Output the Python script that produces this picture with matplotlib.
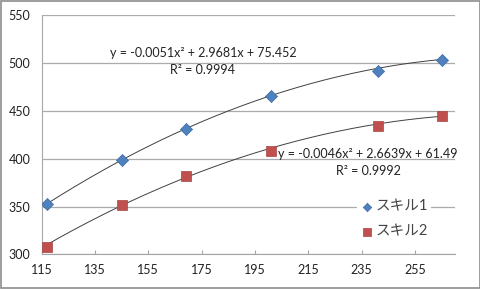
import numpy as np
import matplotlib
matplotlib.use("Agg")
import matplotlib.pyplot as plt
from matplotlib.patches import Rectangle

plt.rcParams['font.family'] = ['Lato', 'Noto Sans CJK JP', 'DejaVu Sans']

x = [117, 145, 169, 201, 241, 265]
skill1 = [352.5, 399, 431, 465.5, 491.5, 503.5]
skill2 = [308, 352, 382, 408.5, 434.5, 444.5]
labels = ["スキル1", "スキル2"]
coef1 = [-0.0051, 2.9681, 75.452]
coef2 = [-0.0046, 2.6639, 61.49]
eq1 = "y = -0.0051x² + 2.9681x + 75.452\nR² = 0.9994"
eq2 = "y = -0.0046x² + 2.6639x + 61.49\nR² = 0.9992"
xticks = [115, 135, 155, 175, 195, 215, 235, 255]
yticks = [300, 350, 400, 450, 500, 550]

fig = plt.figure(figsize=(4.81, 2.89), dpi=100)
ax = fig.add_axes([0.0867, 0.120, 0.859, 0.827])

xs = np.linspace(min(x), max(x), 200)
ax.plot(xs, np.polyval(coef1, xs), color="#404040", lw=0.7, zorder=2)
ax.plot(xs, np.polyval(coef2, xs), color="#404040", lw=0.7, zorder=2)
ax.scatter(x, skill1, marker="D", s=38, color="#4F81BD", edgecolor="#3A6BA5", lw=0.5,
           label=labels[0], zorder=3)
ax.scatter(x, skill2, marker="s", s=60, color="#C0504D", edgecolor="#A84542", lw=0.5,
           label=labels[1], zorder=3)

ax.set_xlim(115, 270)
ax.set_ylim(300, 550)
ax.set_xticks(xticks)
ax.set_yticks(yticks)
ax.grid(axis="y", color="#ABABAB", lw=0.9)
ax.set_axisbelow(True)
for s in ["top", "right"]:
    ax.spines[s].set_visible(False)
for s in ["left", "bottom"]:
    ax.spines[s].set_color("#A6A6A6")
ax.tick_params(axis="y", length=0, labelsize=9, pad=8, labelcolor="#222222")
ax.tick_params(axis="x", direction="in", length=3, color="#A6A6A6", labelsize=9,
               pad=7, labelcolor="#222222")

ax.text(175.5, 501.5, eq1, ha="center", va="center", fontsize=9, linespacing=1.45,
        color="#222222")
ax.text(237.4, 395.8, eq2, ha="center", va="center", fontsize=9, linespacing=1.45,
        color="#222222")

leg = ax.legend(loc="center left", bbox_to_anchor=(0.745, 0.148), frameon=True,
                fontsize=10.5, handletextpad=0.1, borderpad=0.2, labelspacing=0.75,
                handlelength=1.0, markerscale=0.7)
leg.get_frame().set_edgecolor("none")
leg.get_frame().set_facecolor("white")
leg.get_frame().set_alpha(1)
for t in leg.get_texts():
    t.set_color("#444444")

fig.patches.append(Rectangle((0.002, 0.003), 0.995, 0.993, transform=fig.transFigure,
                             fill=False, edgecolor="#8C8C8C", lw=1.2))

fig.savefig("out.png", dpi=100)
